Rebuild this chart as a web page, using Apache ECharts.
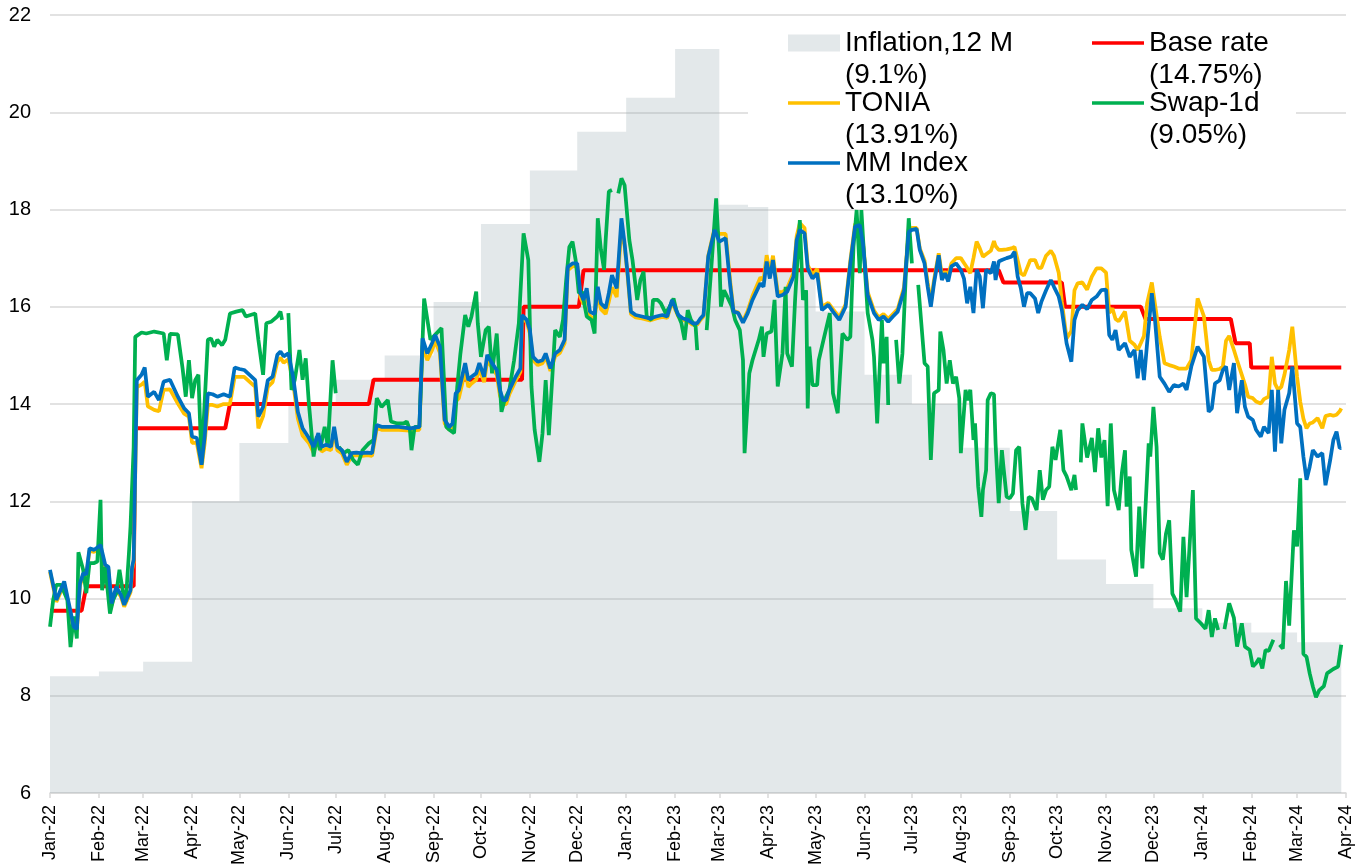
<!DOCTYPE html>
<html><head><meta charset="utf-8">
<script src="https://cdn.jsdelivr.net/npm/echarts@6.0.0/dist/echarts.min.js"></script>
<style>html,body{margin:0;padding:0;background:#fff}#chart{width:1365px;height:866px}</style>
</head><body><div id="chart"></div>
<script>
const monthNames = ['Jan','Feb','Mar','Apr','May','Jun','Jul','Aug','Sep','Oct','Nov','Dec'];
const seriesNames = ['Inflation,12 M','Base rate','TONIA','Swap-1d','MM Index'];
const legendLatest = {'Inflation,12 M':'9.1%','Base rate':'14.75%','TONIA':'13.91%','Swap-1d':'9.05%','MM Index':'13.10%'};

const inflationDates = ['2022-01-01','2022-02-01','2022-03-01','2022-04-01','2022-05-01','2022-06-01','2022-07-01','2022-08-01','2022-09-01','2022-10-01','2022-11-01','2022-12-01',
 '2023-01-01','2023-02-01','2023-03-01','2023-04-01','2023-05-01','2023-06-01','2023-07-01','2023-08-01','2023-09-01','2023-10-01','2023-11-01','2023-12-01',
 '2024-01-01','2024-02-01','2024-03-01','2024-03-29'];
const inflationValues = [8.4,8.5,8.7,12.0,13.2,14.0,14.5,15.0,16.1,17.7,18.8,19.6,
 20.3,21.3,18.1,16.8,15.9,14.6,14.0,13.1,11.8,10.8,10.3,9.8,
 9.5,9.3,9.1,9.1];

const baseRateDates = ['2022-01-01','2022-01-21','2022-01-24','2022-02-23','2022-02-24','2022-04-22','2022-04-25','2022-07-22','2022-07-25','2022-10-27','2022-10-28','2022-12-02','2022-12-05','2023-08-25','2023-08-28','2023-10-04','2023-10-06','2023-11-23','2023-11-26','2024-01-19','2024-01-22','2024-01-31','2024-02-01','2024-03-29'];
const baseRateValues = [9.75,9.75,10.25,10.25,13.5,13.5,14,14,14.5,14.5,16,16,16.75,16.75,16.5,16.5,16,16,15.75,15.75,15.25,15.25,14.75,14.75];

const mmDates = [
 '2022-01-01','2022-01-05','2022-01-10','2022-01-16','2022-01-18','2022-01-20','2022-01-22','2022-01-24','2022-01-26','2022-01-29',
 '2022-02-02','2022-02-05','2022-02-07','2022-02-09','2022-02-12','2022-02-15','2022-02-17','2022-02-21','2022-02-22','2022-02-23',
 '2022-02-25','2022-02-28','2022-03-02','2022-03-04','2022-03-08','2022-03-11','2022-03-14','2022-03-18','2022-03-23','2022-03-27',
 '2022-03-30','2022-04-01','2022-04-04','2022-04-07','2022-04-09','2022-04-11','2022-04-14','2022-04-17','2022-04-21','2022-04-25',
 '2022-04-28','2022-05-01','2022-05-04','2022-05-11','2022-05-13','2022-05-16','2022-05-19','2022-05-22','2022-05-25','2022-05-27',
 '2022-05-29','2022-06-01','2022-06-04','2022-06-07','2022-06-10','2022-06-14','2022-06-17','2022-06-20','2022-06-22','2022-06-25',
 '2022-06-28','2022-06-30','2022-07-02','2022-07-05','2022-07-08','2022-07-11','2022-07-14','2022-07-17','2022-07-21','2022-07-24',
 '2022-07-27','2022-07-30','2022-08-05','2022-08-10','2022-08-17','2022-08-23','2022-08-25','2022-08-28','2022-08-31','2022-09-02',
 '2022-09-05','2022-09-08','2022-09-11','2022-09-13','2022-09-15','2022-09-17','2022-09-19','2022-09-21','2022-09-23','2022-09-25',
 '2022-09-28','2022-09-30','2022-10-03','2022-10-05','2022-10-08','2022-10-11','2022-10-13','2022-10-15','2022-10-17','2022-10-19',
 '2022-10-23','2022-10-26','2022-10-27','2022-10-30','2022-11-01','2022-11-03','2022-11-06','2022-11-09','2022-11-11','2022-11-14',
 '2022-11-17','2022-11-20','2022-11-23','2022-11-25','2022-11-28','2022-12-01','2022-12-03','2022-12-05','2022-12-07','2022-12-09',
 '2022-12-12','2022-12-14','2022-12-16','2022-12-19','2022-12-21','2022-12-23','2022-12-26','2022-12-29','2022-12-31','2023-01-02',
 '2023-01-04','2023-01-07','2023-01-11','2023-01-16','2023-01-20','2023-01-24','2023-01-27','2023-01-30','2023-02-03','2023-02-06',
 '2023-02-09','2023-02-12','2023-02-15','2023-02-17','2023-02-19','2023-02-22','2023-02-26','2023-03-01','2023-03-05','2023-03-08',
 '2023-03-10','2023-03-13','2023-03-16','2023-03-19','2023-03-22','2023-03-27','2023-03-29','2023-03-31','2023-04-02','2023-04-04',
 '2023-04-07','2023-04-10','2023-04-13','2023-04-17','2023-04-19','2023-04-21','2023-04-24','2023-04-26','2023-04-29','2023-05-02',
 '2023-05-05','2023-05-09','2023-05-12','2023-05-16','2023-05-20','2023-05-23','2023-05-26','2023-05-29','2023-05-31','2023-06-03',
 '2023-06-07','2023-06-10','2023-06-13','2023-06-16','2023-06-19','2023-06-22','2023-06-26','2023-06-29','2023-07-01','2023-07-04',
 '2023-07-06','2023-07-09','2023-07-11','2023-07-13','2023-07-15','2023-07-18','2023-07-20','2023-07-22','2023-07-24','2023-07-26',
 '2023-07-29','2023-08-01','2023-08-03','2023-08-05','2023-08-07','2023-08-09','2023-08-11','2023-08-13','2023-08-15','2023-08-17',
 '2023-08-20','2023-08-22','2023-08-23','2023-08-25','2023-08-27','2023-08-30','2023-09-02','2023-09-04','2023-09-06','2023-09-08',
 '2023-09-10','2023-09-12','2023-09-14','2023-09-17','2023-09-19','2023-09-21','2023-09-24','2023-09-27','2023-09-29','2023-10-02',
 '2023-10-04','2023-10-07','2023-10-10','2023-10-12','2023-10-14','2023-10-17','2023-10-20','2023-10-23','2023-10-26','2023-10-29',
 '2023-11-01','2023-11-03','2023-11-05','2023-11-07','2023-11-09','2023-11-13','2023-11-16','2023-11-19','2023-11-21','2023-11-23',
 '2023-11-25','2023-11-27','2023-11-30','2023-12-02','2023-12-05','2023-12-08','2023-12-11','2023-12-14','2023-12-17','2023-12-20',
 '2023-12-22','2023-12-25','2023-12-29','2024-01-02','2024-01-05','2024-01-07','2024-01-09','2024-01-12','2024-01-14','2024-01-16',
 '2024-01-18','2024-01-21','2024-01-23','2024-01-26','2024-01-28','2024-01-30','2024-02-02','2024-02-04','2024-02-07','2024-02-09',
 '2024-02-12','2024-02-14','2024-02-16','2024-02-18','2024-02-20','2024-02-22','2024-02-25','2024-02-27','2024-03-01','2024-03-03',
 '2024-03-05','2024-03-07','2024-03-09','2024-03-11','2024-03-14','2024-03-17','2024-03-19','2024-03-22','2024-03-24','2024-03-26',
 '2024-03-28','2024-03-29'];
const mmIndexValues = [
 10.59,9.97,10.35,9.42,9.37,10.31,10.52,10.5,11.03,11.0,
 11.1,10.69,10.65,9.9,10.24,10.07,9.87,10.17,10.65,10.8,
 14.49,14.6,14.75,14.15,14.25,14.08,14.46,14.5,14.15,13.91,
 13.81,13.33,13.3,12.75,13.33,14.22,14.2,14.15,14.2,14.15,
 14.75,14.72,14.7,14.49,13.74,13.94,14.49,14.56,15.01,15.08,
 14.98,15.04,14.56,13.84,13.5,13.3,13.12,13.4,13.12,13.16,
 13.12,13.53,13.12,13.05,12.81,12.99,13.0,12.99,13.0,12.99,
 13.57,13.53,13.53,13.53,13.5,13.53,15.35,15.04,15.25,15.42,
 15.18,13.67,13.53,13.6,14.22,14.28,14.56,14.84,14.49,14.56,
 14.63,14.84,14.56,15.01,14.84,14.7,14.29,14.08,14.08,14.29,
 14.56,14.73,15.83,15.73,15.52,14.97,14.87,14.9,15.04,14.73,
 15.04,15.11,15.32,16.82,16.89,16.89,16.28,16.14,16.38,15.9,
 15.85,16.41,16.07,15.97,16.28,16.65,16.38,17.82,17.3,16.65,
 15.9,15.83,15.8,15.76,15.8,15.83,15.8,16.14,15.83,15.76,
 15.73,15.66,15.66,15.76,15.83,17.03,17.58,17.34,17.41,16.41,
 15.9,15.87,15.67,15.87,16.14,16.48,16.41,16.93,16.58,16.96,
 16.21,16.24,16.31,16.62,17.37,17.58,17.51,16.79,16.58,16.69,
 15.93,16.04,15.9,15.73,16.0,16.89,17.65,17.68,17.3,16.24,
 15.87,15.73,15.8,15.69,15.8,15.9,16.34,17.54,17.58,17.6,
 17.17,16.89,16.41,16.0,16.48,17.06,16.55,16.69,16.52,16.83,
 16.89,16.76,16.58,16.07,16.41,15.87,16.76,16.62,15.97,16.76,
 16.69,16.93,16.55,16.93,16.96,17.0,17.03,17.13,16.62,16.38,
 16.0,16.28,16.28,16.17,15.87,16.1,16.34,16.55,16.41,16.21,
 15.93,15.25,14.87,15.73,15.93,16.04,15.95,16.14,16.21,16.34,
 16.35,15.42,15.32,15.52,15.11,15.25,14.97,15.11,14.53,15.11,
 14.49,15.25,16.28,15.73,14.56,14.42,14.25,14.39,14.36,14.42,
 14.29,14.77,15.18,14.97,13.84,13.91,14.42,14.49,14.7,14.77,
 14.29,14.84,13.81,14.49,13.94,13.74,13.67,13.47,13.33,13.53,
 13.4,14.29,13.02,14.29,13.19,13.88,14.22,14.77,13.6,13.53,
 12.92,12.44,12.71,13.05,12.92,12.99,12.33,12.85,13.26,13.43,
 13.09,13.1];
const toniaValues = [
 10.55,9.93,10.3,9.38,9.33,10.27,10.48,10.46,10.98,10.96,
 11.05,10.64,10.6,9.86,10.2,10.03,9.83,10.13,10.6,10.75,
 14.35,14.4,14.46,13.95,13.88,13.85,14.29,14.3,14.01,13.8,
 13.74,13.2,13.2,12.68,13.2,13.98,13.98,13.95,14.0,14.0,
 14.56,14.56,14.56,14.35,13.5,13.75,14.35,14.45,14.87,14.95,
 14.85,14.92,14.45,13.7,13.35,13.2,13.0,13.3,13.02,13.08,
 13.05,13.45,13.05,12.98,12.75,12.93,12.95,12.93,12.95,12.93,
 13.5,13.47,13.47,13.47,13.45,13.47,15.2,14.9,15.1,15.3,
 15.05,13.6,13.47,13.5,14.05,14.12,14.4,14.7,14.35,14.42,
 14.5,14.72,14.45,14.9,14.75,14.6,14.18,14.0,14.0,14.2,
 14.48,14.66,15.78,15.68,15.45,14.9,14.8,14.84,14.98,14.68,
 14.98,15.05,15.25,16.75,16.83,16.84,16.2,16.05,16.3,15.8,
 15.76,16.3,15.95,15.85,16.1,16.4,16.2,17.65,17.25,16.6,
 15.85,15.78,15.76,15.72,15.76,15.79,15.77,16.1,15.8,15.73,
 15.7,15.63,15.63,15.73,15.8,17.05,17.62,17.5,17.5,16.5,
 15.92,15.88,15.7,15.92,16.22,16.6,16.55,17.06,16.7,17.05,
 16.3,16.3,16.38,16.7,17.45,17.72,17.62,16.86,16.65,16.78,
 16.0,16.08,15.95,15.78,16.05,16.95,17.7,17.72,17.35,16.3,
 15.92,15.78,15.85,15.75,15.85,15.95,16.4,17.6,17.62,17.62,
 17.2,16.95,16.5,16.07,16.55,17.1,16.65,16.72,16.65,16.89,
 17.0,17.0,16.9,16.8,16.69,17.0,17.34,17.2,17.03,17.08,
 17.15,17.35,17.25,17.17,17.17,17.18,17.2,17.23,16.96,16.69,
 16.64,16.8,16.96,16.96,16.8,16.8,17.05,17.15,17.05,16.7,
 16.1,15.35,15.5,16.34,16.48,16.5,16.35,16.62,16.79,16.79,
 16.7,15.87,15.97,15.75,15.7,15.9,15.3,15.22,15.11,15.25,
 15.4,16.07,16.5,16.05,15.38,14.84,14.8,14.77,14.73,14.73,
 14.73,14.9,16.17,15.8,14.9,14.7,14.7,14.72,14.77,15.3,
 15.4,15.11,14.9,14.6,14.4,14.15,14.12,14.05,14.01,14.1,
 14.15,14.97,14.42,14.29,14.35,14.6,15.11,15.59,14.56,14.05,
 13.7,13.5,13.6,13.62,13.71,13.5,13.75,13.78,13.76,13.78,
 13.85,13.91];

const swapDates = [
 '2022-01-01','2022-01-03','2022-01-05','2022-01-08','2022-01-12','2022-01-14','2022-01-16','2022-01-18','2022-01-19','2022-01-22',
 '2022-01-24','2022-01-26','2022-01-29','2022-01-31','2022-02-02','2022-02-03','2022-02-05','2022-02-08','2022-02-10','2022-02-12',
 '2022-02-14','2022-02-16','2022-02-18','2022-02-20','2022-02-21','2022-02-23','2022-02-24','2022-02-28','2022-03-03','2022-03-08',
 '2022-03-14','2022-03-16','2022-03-18','2022-03-23','2022-03-26','2022-03-28','2022-03-30','2022-04-01','2022-04-03','2022-04-05',
 '2022-04-07','2022-04-11','2022-04-13','2022-04-15','2022-04-17','2022-04-20','2022-04-22','2022-04-25','2022-04-29','2022-05-03',
 '2022-05-05','2022-05-11','2022-05-13','2022-05-16','2022-05-18','2022-05-21','2022-05-25','2022-05-27','2022-05-28','2022-05-30',
 '2022-06-01','2022-06-03','2022-06-05','2022-06-08','2022-06-10','2022-06-12','2022-06-14','2022-06-17','2022-06-19','2022-06-21',
 '2022-06-24','2022-06-26','2022-06-29','2022-07-01','2022-07-02','2022-07-03','2022-07-06','2022-07-09','2022-07-12','2022-07-15',
 '2022-07-18','2022-07-22','2022-07-25','2022-07-27','2022-07-30','2022-08-03','2022-08-05','2022-08-09','2022-08-13','2022-08-15',
 '2022-08-17','2022-08-18','2022-08-20','2022-08-23','2022-08-26','2022-08-30','2022-09-06','2022-09-09','2022-09-11','2022-09-14',
 '2022-09-16','2022-09-18','2022-09-21','2022-09-23','2022-09-25','2022-09-28','2022-09-29','2022-10-01','2022-10-04','2022-10-06',
 '2022-10-08','2022-10-11','2022-10-14','2022-10-16','2022-10-19','2022-10-22','2022-10-25','2022-10-28','2022-10-31','2022-11-02',
 '2022-11-04','2022-11-07','2022-11-09','2022-11-11','2022-11-13','2022-11-17','2022-11-20','2022-11-22','2022-11-24','2022-11-26',
 '2022-11-28','2022-11-30','2022-12-02','2022-12-04','2022-12-07','2022-12-10','2022-12-12','2022-12-14','2022-12-16','2022-12-18',
 '2022-12-19','2022-12-21','2022-12-23','2022-12-25','2022-12-27','2022-12-29','2022-12-31','2023-01-03','2023-01-05','2023-01-08',
 '2023-01-10','2023-01-12','2023-01-14','2023-01-17','2023-01-18','2023-01-21','2023-01-23','2023-01-26','2023-01-28','2023-01-31',
 '2023-02-02','2023-02-05','2023-02-07','2023-02-09','2023-02-11','2023-02-14','2023-02-15','2023-02-17','2023-02-21','2023-02-24',
 '2023-02-27','2023-03-01','2023-03-02','2023-03-04','2023-03-07','2023-03-09','2023-03-11','2023-03-14','2023-03-16','2023-03-17',
 '2023-03-20','2023-03-22','2023-03-26','2023-03-28','2023-03-29','2023-03-31','2023-04-03','2023-04-05','2023-04-07','2023-04-10',
 '2023-04-12','2023-04-13','2023-04-16','2023-04-18','2023-04-19','2023-04-21','2023-04-23','2023-04-25','2023-04-26','2023-04-27',
 '2023-04-29','2023-05-02','2023-05-03','2023-05-06','2023-05-10','2023-05-12','2023-05-15','2023-05-18','2023-05-21','2023-05-23',
 '2023-05-25','2023-05-27','2023-05-29','2023-05-30','2023-06-01','2023-06-03','2023-06-06','2023-06-07','2023-06-09','2023-06-12',
 '2023-06-13','2023-06-15','2023-06-16','2023-06-18','2023-06-21','2023-06-23','2023-06-25','2023-06-27','2023-06-29','2023-07-01',
 '2023-07-03','2023-07-05','2023-07-09','2023-07-11','2023-07-13','2023-07-15','2023-07-18','2023-07-19','2023-07-21','2023-07-23',
 '2023-07-25','2023-07-27','2023-07-29','2023-07-31','2023-08-01','2023-08-04','2023-08-05','2023-08-07','2023-08-09','2023-08-10',
 '2023-08-12','2023-08-14','2023-08-15','2023-08-17','2023-08-18','2023-08-20','2023-08-22','2023-08-23','2023-08-25','2023-08-27',
 '2023-08-28','2023-08-30','2023-09-01','2023-09-03','2023-09-05','2023-09-07','2023-09-09','2023-09-11','2023-09-13','2023-09-15',
 '2023-09-18','2023-09-20','2023-09-22','2023-09-24','2023-09-26','2023-09-28','2023-09-30','2023-10-03','2023-10-05','2023-10-07',
 '2023-10-10','2023-10-12','2023-10-13','2023-10-14','2023-10-16','2023-10-17','2023-10-20','2023-10-23','2023-10-25','2023-10-27',
 '2023-10-29','2023-10-31','2023-11-02','2023-11-04','2023-11-06','2023-11-09','2023-11-11','2023-11-13','2023-11-14','2023-11-16',
 '2023-11-17','2023-11-20','2023-11-22','2023-11-24','2023-11-26','2023-11-28','2023-11-29','2023-12-01','2023-12-03','2023-12-05',
 '2023-12-07','2023-12-09','2023-12-11','2023-12-13','2023-12-15','2023-12-18','2023-12-20','2023-12-22','2023-12-23','2023-12-26',
 '2023-12-28','2023-12-31','2024-01-03','2024-01-05','2024-01-07','2024-01-09','2024-01-11','2024-01-13','2024-01-15','2024-01-18',
 '2024-01-21','2024-01-23','2024-01-26','2024-01-28','2024-01-31','2024-02-02','2024-02-04','2024-02-06','2024-02-08','2024-02-10',
 '2024-02-12','2024-02-15','2024-02-16','2024-02-19','2024-02-21','2024-02-23','2024-02-25','2024-02-28','2024-03-01','2024-03-03',
 '2024-03-05','2024-03-07','2024-03-09','2024-03-11','2024-03-13','2024-03-15','2024-03-18','2024-03-20','2024-03-24','2024-03-27',
 '2024-03-29'];
const swapValues = [
 9.42,9.97,10.28,10.28,9.97,9.0,9.63,9.18,10.95,10.59,
 10.11,10.73,10.73,10.76,12.03,10.17,10.65,9.69,9.97,10.11,
 10.59,10.17,9.93,10.93,11.48,13.12,15.38,15.47,15.45,15.49,
 15.45,14.9,15.44,15.43,14.73,14.15,14.9,14.12,14.49,14.6,
 12.78,15.32,15.35,15.18,15.32,15.21,15.32,15.86,15.9,15.93,
 15.8,15.86,15.32,14.6,15.66,15.69,15.8,15.9,15.73,null,
 15.87,14.29,14.49,15.11,14.5,14.94,14.01,12.92,13.33,13.05,
 13.53,13.12,14.9,14.22,null,13.12,12.99,13.05,12.85,12.75,
 13.05,13.19,13.26,14.12,13.94,14.08,13.64,13.6,13.6,13.64,
 13.47,13.05,13.53,13.53,16.17,15.32,15.56,13.53,13.47,13.4,
 14.36,15.04,15.83,15.59,15.8,16.31,15.66,14.97,15.52,15.59,
 14.63,15.45,13.84,14.08,14.29,14.9,15.66,17.51,16.96,14.36,
 13.47,12.81,13.4,14.49,13.36,15.52,15.38,15.73,16.55,17.23,
 17.34,16.96,16.28,16.31,15.8,15.73,15.45,17.82,17.17,16.76,
 17.37,18.37,18.4,null,18.33,18.64,18.5,17.37,16.96,16.14,
 16.55,16.72,15.8,15.73,16.14,16.14,16.07,15.87,15.97,16.17,
 15.9,15.66,15.32,15.93,15.73,15.59,15.11,null,15.52,16.83,
 18.23,17.03,16.0,16.34,16.14,16.0,15.73,15.52,14.9,12.99,
 14.63,14.9,15.32,15.59,14.97,15.45,15.49,16.14,14.36,15.04,
 16.41,15.04,14.77,16.14,16.69,17.78,16.14,16.34,13.91,15.18,
 14.39,14.39,14.9,15.32,15.87,14.22,13.81,15.45,15.32,15.38,
 17.23,17.99,16.69,17.99,16.89,15.87,15.32,14.97,13.6,15.73,
 14.84,15.38,13.98,null,15.32,14.42,15.04,16.55,17.82,16.89,
 null,16.45,14.84,14.77,12.85,14.22,14.29,15.49,15.11,14.42,
 14.9,14.42,14.56,14.12,12.99,14.29,14.08,14.29,13.26,13.6,
 12.3,11.68,12.23,12.64,14.08,14.22,14.2,13.19,11.96,13.05,
 12.71,12.09,12.06,12.16,13.05,13.12,11.96,11.41,12.09,12.06,
 11.82,12.64,12.03,12.23,12.3,13.12,12.85,13.47,12.64,12.51,
 12.23,12.54,12.23,null,12.8,13.6,12.9,13.3,12.6,13.5,
 12.9,13.26,11.9,13.6,12.23,11.82,12.58,13.05,11.89,12.51,
 11.0,10.45,11.89,10.62,11.89,13.19,12.92,13.94,13.12,10.93,
 10.8,11.34,11.61,10.1,9.97,9.73,11.27,10.03,10.07,12.23,
 9.59,9.49,9.38,9.76,9.21,9.59,9.35,null,9.37,9.9,
 9.6,9.01,9.49,9.01,8.94,8.6,8.67,8.77,8.56,8.94,
 8.92,9.15,null,9.05,8.97,10.36,9.44,11.4,11.07,12.47,
 8.86,8.8,8.46,8.19,7.97,8.11,8.2,8.46,8.55,8.6,
 9.05];

function pairs(dates, values) {
  return dates.map(function (d, i) { return [d, values[i] === null ? '-' : values[i]]; });
}

const FONT = '"Liberation Sans", Arial, sans-serif';
const chart = echarts.init(document.getElementById('chart'), null, {renderer: 'canvas'});
const lineIcon = 'path://M0,0H52V3.5H0Z';

function legendBlock(names, left) {
  return {
    data: names.map(function (n) {
      return n === 'Inflation,12 M' ? {name: n, icon: 'rect'} : {name: n, icon: lineIcon};
    }),
    orient: 'vertical', left: left, top: -5, padding: 0,
    itemWidth: 52, itemHeight: 17, itemGap: -36,
    symbolKeepAspect: true, selectedMode: false, z: 20,
    formatter: function (name) { return '\n' + name + '\n(' + legendLatest[name] + ')'; },
    textStyle: {fontSize: 28, lineHeight: 32, color: '#000', fontFamily: FONT}
  };
}

chart.setOption({
  animation: false,
  grid: {left: 50, right: 19, top: 15, bottom: 73, containLabel: false, outerBoundsMode: 'none'},
  xAxis: {
    type: 'time',
    min: new Date(2022, 0, 1).getTime(),
    max: new Date(2024, 3, 1).getTime(),
    splitNumber: 27,
    minInterval: 28 * 86400000,
    maxInterval: 31 * 86400000,
    axisLine: {show: true, lineStyle: {color: '#d9d9d9', width: 1.5}},
    axisTick: {show: true, length: 5, lineStyle: {color: '#d9d9d9', width: 1.5}},
    splitLine: {show: false},
    axisLabel: {
      rotate: 90, margin: 12, fontSize: 18, color: '#000', fontFamily: FONT,
      showMinLabel: true, showMaxLabel: true, hideOverlap: false,
      formatter: function (v) {
        const d = new Date(v);
        return monthNames[d.getMonth()] + '-' + String(d.getFullYear()).slice(2);
      }
    }
  },
  yAxis: {
    type: 'value', min: 6, max: 22, interval: 2,
    axisLine: {show: false}, axisTick: {show: false},
    axisLabel: {fontSize: 20, color: '#000', margin: 19, fontFamily: FONT},
    splitLine: {lineStyle: {color: '#d9d9d9', width: 1.5}}
  },
  legend: [
    legendBlock(['Inflation,12 M', 'TONIA', 'MM Index'], 788),
    legendBlock(['Base rate', 'Swap-1d'], 1092)
  ],
  graphic: {elements: [{type: 'rect', z: 10, silent: true,
    shape: {x: 748, y: 22, width: 548, height: 185}, style: {fill: '#ffffff'}}]},
  series: [
    {name: seriesNames[0], type: 'line', step: 'end', symbol: 'none', showSymbol: false,
     data: pairs(inflationDates, inflationValues),
     itemStyle: {color: '#E3E8EA'}, lineStyle: {width: 0},
     areaStyle: {color: 'rgb(143,163,171)', opacity: 0.25}, z: 1},
    {name: seriesNames[1], type: 'line', symbol: 'none', showSymbol: false,
     data: pairs(baseRateDates, baseRateValues),
     itemStyle: {color: '#FF0000'}, lineStyle: {color: '#FF0000', width: 4}, z: 2},
    {name: seriesNames[2], type: 'line', symbol: 'none', showSymbol: false,
     data: pairs(mmDates, toniaValues),
     itemStyle: {color: '#FFC000'}, lineStyle: {color: '#FFC000', width: 3.75}, z: 3},
    {name: seriesNames[3], type: 'line', symbol: 'none', showSymbol: false, connectNulls: false,
     data: pairs(swapDates, swapValues),
     itemStyle: {color: '#00B050'}, lineStyle: {color: '#00B050', width: 3.75}, z: 4},
    {name: seriesNames[4], type: 'line', symbol: 'none', showSymbol: false,
     data: pairs(mmDates, mmIndexValues),
     itemStyle: {color: '#0070C0'}, lineStyle: {color: '#0070C0', width: 3.75}, z: 5}
  ]
});
</script>
</body></html>
